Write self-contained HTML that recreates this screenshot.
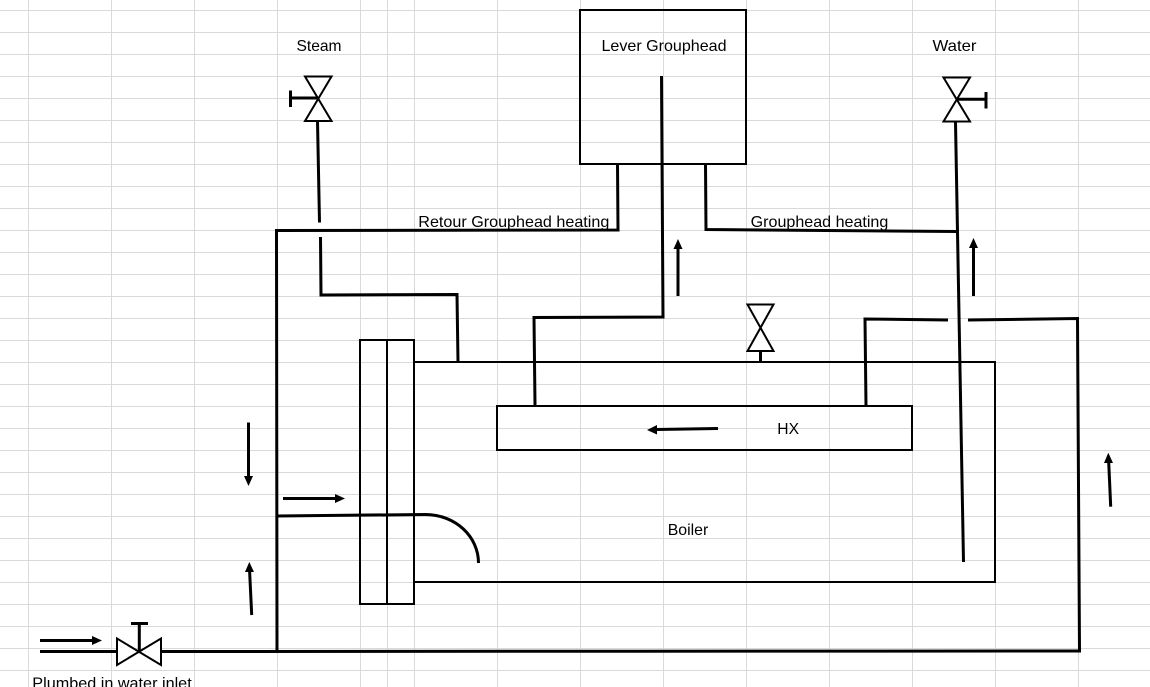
<!DOCTYPE html>
<html>
<head>
<meta charset="utf-8">
<style>
  html, body { margin: 0; padding: 0; background: #ffffff; }
  body { width: 1150px; height: 687px; overflow: hidden; }
  svg { display: block; }
  text { font-family: "Liberation Sans", Arial, sans-serif; font-size: 16px; fill: #000; }
</style>
</head>
<body>
<svg width="1150" height="687" viewBox="0 0 1150 687" xmlns="http://www.w3.org/2000/svg">
  <rect x="0" y="0" width="1150" height="687" fill="#ffffff"/>
  <g stroke="#d9d9d9" stroke-width="1">
    <line x1="28.5" y1="0" x2="28.5" y2="687"/>
    <line x1="111.5" y1="0" x2="111.5" y2="687"/>
    <line x1="194.5" y1="0" x2="194.5" y2="687"/>
    <line x1="277.5" y1="0" x2="277.5" y2="687"/>
    <line x1="360.5" y1="0" x2="360.5" y2="687"/>
    <line x1="387.5" y1="0" x2="387.5" y2="687"/>
    <line x1="414.5" y1="0" x2="414.5" y2="687"/>
    <line x1="497.5" y1="0" x2="497.5" y2="687"/>
    <line x1="580.5" y1="0" x2="580.5" y2="687"/>
    <line x1="663.5" y1="0" x2="663.5" y2="687"/>
    <line x1="746.5" y1="0" x2="746.5" y2="687"/>
    <line x1="829.5" y1="0" x2="829.5" y2="687"/>
    <line x1="912.5" y1="0" x2="912.5" y2="687"/>
    <line x1="995.5" y1="0" x2="995.5" y2="687"/>
    <line x1="1078.5" y1="0" x2="1078.5" y2="687"/>
    <line x1="0" y1="10.5" x2="1150" y2="10.5"/>
    <line x1="0" y1="32.5" x2="1150" y2="32.5"/>
    <line x1="0" y1="54.5" x2="1150" y2="54.5"/>
    <line x1="0" y1="76.5" x2="1150" y2="76.5"/>
    <line x1="0" y1="98.5" x2="1150" y2="98.5"/>
    <line x1="0" y1="120.5" x2="1150" y2="120.5"/>
    <line x1="0" y1="142.5" x2="1150" y2="142.5"/>
    <line x1="0" y1="164.5" x2="1150" y2="164.5"/>
    <line x1="0" y1="186.5" x2="1150" y2="186.5"/>
    <line x1="0" y1="208.5" x2="1150" y2="208.5"/>
    <line x1="0" y1="230.5" x2="1150" y2="230.5"/>
    <line x1="0" y1="252.5" x2="1150" y2="252.5"/>
    <line x1="0" y1="274.5" x2="1150" y2="274.5"/>
    <line x1="0" y1="296.5" x2="1150" y2="296.5"/>
    <line x1="0" y1="318.5" x2="1150" y2="318.5"/>
    <line x1="0" y1="340.5" x2="1150" y2="340.5"/>
    <line x1="0" y1="362.5" x2="1150" y2="362.5"/>
    <line x1="0" y1="384.5" x2="1150" y2="384.5"/>
    <line x1="0" y1="406.5" x2="1150" y2="406.5"/>
    <line x1="0" y1="428.5" x2="1150" y2="428.5"/>
    <line x1="0" y1="450.5" x2="1150" y2="450.5"/>
    <line x1="0" y1="472.5" x2="1150" y2="472.5"/>
    <line x1="0" y1="494.5" x2="1150" y2="494.5"/>
    <line x1="0" y1="516.5" x2="1150" y2="516.5"/>
    <line x1="0" y1="538.5" x2="1150" y2="538.5"/>
    <line x1="0" y1="560.5" x2="1150" y2="560.5"/>
    <line x1="0" y1="582.5" x2="1150" y2="582.5"/>
    <line x1="0" y1="604.5" x2="1150" y2="604.5"/>
    <line x1="0" y1="626.5" x2="1150" y2="626.5"/>
    <line x1="0" y1="648.5" x2="1150" y2="648.5"/>
    <line x1="0" y1="670.5" x2="1150" y2="670.5"/>
  </g>

  <g fill="none" stroke="#000" stroke-width="2">
    <rect x="580" y="10" width="166" height="154"/>
    <rect x="360" y="340" width="54" height="264"/>
    <line x1="387" y1="340" x2="387" y2="604"/>
    <polyline points="414,362 995,362 995,582 414,582"/>
    <rect x="497" y="406" width="415" height="44"/>
  </g>

  <g fill="none" stroke="#000" stroke-width="3" stroke-linejoin="miter">
    <line x1="317.5" y1="121" x2="319.5" y2="222.5"/>
    <polyline points="320.5,237 321,295 457,294.5 458,362"/>
    <polyline points="617.5,164 618,230 276.5,230.5 277,652"/>
    <polyline points="705.5,164 706,229.5 957,231.5"/>
    <polyline points="661.5,76 663,317 534,317.5 535,405"/>
    <line x1="955.5" y1="122" x2="963.5" y2="562"/>
    <polyline points="866,406 865,319 948,320"/>
    <polyline points="968,320 1077.5,318.5 1079.5,651"/>
    <line x1="40" y1="651.5" x2="117" y2="651.5"/>
    <line x1="161" y1="651.5" x2="1081" y2="651"/>
    <line x1="139.3" y1="651" x2="139.3" y2="623.5"/>
    <line x1="131" y1="623.5" x2="148" y2="623.5"/>
    <line x1="290" y1="98" x2="318" y2="98"/>
    <line x1="290.5" y1="90.5" x2="290.5" y2="107"/>
    <line x1="957" y1="99.3" x2="986" y2="99.3"/>
    <line x1="986" y1="92" x2="986" y2="108.5"/>
    <line x1="760.5" y1="351" x2="760.5" y2="362"/>
    <path d="M277,516 L425,514.5 C456,514.5 478.5,537 478.5,563"/>
  </g>

  <g fill="#fff" stroke="#000" stroke-width="2" stroke-linejoin="miter">
    <path d="M305,76.5 L331.5,76.5 L305,121 L331.5,121 Z"/>
    <path d="M943.5,77.5 L970,77.5 L943.5,121.5 L970,121.5 Z"/>
    <path d="M747.5,304.5 L773.5,304.5 L747.5,351 L773.5,351 Z"/>
    <path d="M117,638.5 L117,665 L161,638.5 L161,665 Z"/>
  </g>

  <g stroke="#000" stroke-width="3" fill="none">
    <line x1="40" y1="640.5" x2="94" y2="640.5"/>
    <line x1="248.5" y1="422.5" x2="248.5" y2="477"/>
    <line x1="283" y1="498.5" x2="337" y2="498.5"/>
    <line x1="251.7" y1="615" x2="249.6" y2="571"/>
    <line x1="678" y1="296" x2="678" y2="248"/>
    <line x1="973.5" y1="296" x2="973.5" y2="247"/>
    <line x1="1110.7" y1="506.7" x2="1108.7" y2="462"/>
    <line x1="718" y1="428.5" x2="656" y2="429.5"/>
  </g>
  <g fill="#000" stroke="none">
    <polygon points="92,636 92,645 102,640.5"/>
    <polygon points="244,476 253,476 248.5,486"/>
    <polygon points="335,494 335,503 345,498.5"/>
    <polygon points="245,572 254,572 249.3,562"/>
    <polygon points="673.5,249 682.5,249 678,239"/>
    <polygon points="969,248 978,248 973.5,238"/>
    <polygon points="1104,463 1113,463 1108.3,452.7"/>
    <polygon points="657,425 657,434.5 647,430"/>
  </g>

  <text x="296.5" y="51" textLength="45" lengthAdjust="spacingAndGlyphs">Steam</text>
  <text x="601.5" y="51" textLength="125" lengthAdjust="spacingAndGlyphs">Lever Grouphead</text>
  <text x="932.5" y="51" textLength="44" lengthAdjust="spacingAndGlyphs">Water</text>
  <text x="418.3" y="226.8" textLength="191" lengthAdjust="spacingAndGlyphs">Retour Grouphead heating</text>
  <text x="750.7" y="226.8" textLength="137.6" lengthAdjust="spacingAndGlyphs">Grouphead heating</text>
  <text x="777.3" y="434" textLength="21.7" lengthAdjust="spacingAndGlyphs">HX</text>
  <text x="667.7" y="535" textLength="40.6" lengthAdjust="spacingAndGlyphs">Boiler</text>
  <text x="32.3" y="688.3" textLength="159.4" lengthAdjust="spacingAndGlyphs">Plumbed in water inlet</text>
</svg>
</body>
</html>
